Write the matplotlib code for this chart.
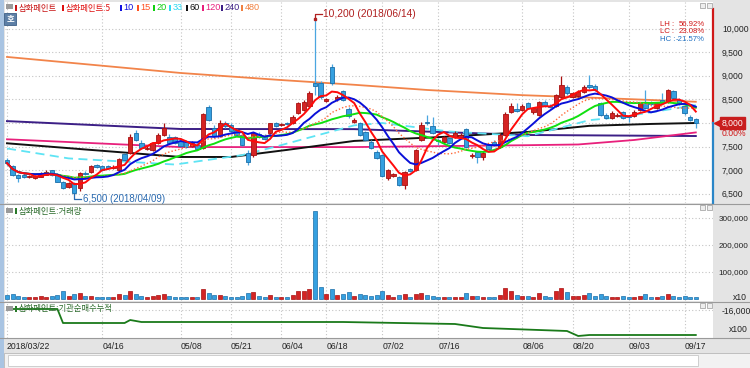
import numpy as np
import pandas as pd
import matplotlib
matplotlib.use('Agg')
import matplotlib.pyplot as plt
import matplotlib.transforms as mtransforms
import matplotlib.font_manager as fm
from matplotlib.patches import Rectangle
from matplotlib.lines import Line2D

KR = ['Noto Sans CJK KR', 'DejaVu Sans']
_names = {f.name for f in fm.fontManager.ttflist}
if 'Liberation Sans Narrow' in _names:
    NUM, FS = ['Liberation Sans Narrow', 'DejaVu Sans'], 7
else:
    NUM, FS = ['Liberation Sans', 'DejaVu Sans'], 6.2
plt.rcParams['font.family'] = NUM

# ---- data ----
holidays = ['2018-05-01', '2018-05-07', '2018-05-22', '2018-06-06', '2018-06-13', '2018-08-15']
dates = pd.bdate_range('2018-03-22', '2018-09-19', freq='C', holidays=holidays)

open_ = [7220, 7090, 6900, 6900, 6850, 6840, 6860, 6900, 7000, 6910,
         6760, 6650, 6720, 6620, 6950, 6970, 7110, 7090, 7090, 7050,
         7000, 7340, 7360, 7780, 7580, 7450, 7430, 7570, 7750, 7700,
         7700, 7620, 7600, 7520, 7540, 7470, 8340, 7890, 7720, 7990,
         7960, 7850, 7750, 7360, 7320, 7760, 7720, 7780, 7990, 7950,
         8000, 7990, 8210, 8280, 8350, 8840, 8840, 8470, 9180, 8500,
         8670, 8300, 8030, 7990, 7800, 7600, 7390, 7320, 6830, 6880,
         6860, 6690, 7020, 7000, 7640, 8030, 7940, 7650, 7590, 7680,
         7710, 7700, 7880, 7300, 7390, 7290, 7530, 7600, 7500, 7750,
         8240, 8300, 8280, 8420, 8240, 8170, 8450, 8370, 8350, 8560,
         8770, 8560, 8580, 8650, 8800, 8780, 8420, 8180, 8100, 8150,
         8240, 8150, 8150, 8280, 8430, 8430, 8310, 8490, 8450, 8670,
         8490, 8350, 8130, 8080]
high = [7260, 7120, 6920, 6930, 6900, 6900, 6960, 7000, 7010, 6930,
        6780, 6760, 6760, 6960, 6980, 7110, 7130, 7110, 7110, 7100,
        7250, 7360, 7760, 7850, 7640, 7520, 7600, 7780, 7990, 7760,
        7720, 7680, 7640, 7620, 7580, 8220, 8380, 7950, 8060, 8040,
        7990, 7880, 7770, 7420, 7800, 7800, 7760, 8010, 8020, 8000,
        8030, 8160, 8440, 8480, 8680, 10200, 8880, 8540, 9260, 8600,
        8700, 8340, 8100, 8020, 7830, 7630, 7420, 7340, 7020, 6940,
        6880, 6990, 7040, 7450, 8030, 8170, 8130, 7680, 7730, 7700,
        7820, 7790, 7900, 7360, 7410, 7400, 7560, 7630, 7780, 8230,
        8420, 8420, 8400, 8440, 8330, 8470, 8480, 8400, 8620, 9000,
        8800, 8660, 8700, 8800, 9020, 8820, 8450, 8210, 8250, 8210,
        8260, 8170, 8270, 8440, 8700, 8460, 8450, 8630, 8720, 8700,
        8520, 8380, 8160, 8100]
low = [7120, 6880, 6760, 6840, 6830, 6820, 6850, 6890, 6880, 6740,
       6600, 6630, 6500, 6560, 6900, 6950, 7050, 6990, 7020, 7030,
       6990, 7200, 7340, 7620, 7440, 7420, 7410, 7550, 7720, 7550,
       7560, 7500, 7480, 7500, 7420, 7450, 8040, 7690, 7700, 7890,
       7800, 7730, 7520, 7110, 7280, 7680, 7650, 7760, 7910, 7930,
       7950, 7970, 8190, 8260, 8330, 8600, 8500, 8440, 8800, 8470,
       8460, 8100, 8000, 7730, 7620, 7440, 7230, 6850, 6800, 6850,
       6670, 6610, 6970, 6980, 7620, 7960, 7760, 7540, 7570, 7550,
       7690, 7680, 7480, 7250, 7150, 7220, 7430, 7520, 7480, 7730,
       8220, 8240, 8250, 8290, 8200, 8150, 8330, 8320, 8330, 8540,
       8600, 8540, 8560, 8630, 8720, 8680, 8150, 8080, 8080, 8130,
       8080, 8020, 8130, 8260, 8290, 8370, 8290, 8400, 8430, 8500,
       8380, 8180, 8040, 7890]
close = [7150, 6900, 6830, 6860, 6870, 6880, 6940, 6970, 6900, 6760,
         6620, 6720, 6520, 6930, 6920, 7090, 7070, 7000, 7040, 7070,
         7230, 7220, 7710, 7640, 7470, 7480, 7570, 7750, 7890, 7570,
         7580, 7520, 7500, 7580, 7440, 8200, 8070, 7720, 8010, 7930,
         7820, 7750, 7540, 7180, 7780, 7700, 7670, 7990, 7930, 7980,
         7970, 8130, 8420, 8440, 8630, 8790, 8560, 8500, 8850, 8560,
         8490, 8150, 8060, 7750, 7640, 7470, 7250, 6870, 7000, 6910,
         6690, 6970, 6990, 7430, 7960, 7990, 7780, 7610, 7700, 7570,
         7780, 7750, 7500, 7330, 7290, 7370, 7450, 7540, 7750, 8200,
         8350, 8260, 8360, 8310, 8310, 8450, 8350, 8340, 8590, 8800,
         8630, 8630, 8660, 8770, 8760, 8700, 8170, 8100, 8220, 8180,
         8100, 8120, 8240, 8420, 8310, 8400, 8420, 8420, 8700, 8520,
         8420, 8210, 8060, 8000]
volume = [15000, 18000, 12000, 9000, 8000, 9000, 10000, 9000, 10000, 14000,
          28000, 12000, 20000, 22000, 10000, 12000, 9000, 8000, 7000, 8000,
          18000, 15000, 30000, 20000, 12000, 8000, 10000, 14000, 18000, 12000,
          9000, 8000, 8000, 7000, 9000, 38000, 24000, 14000, 16000, 10000,
          9000, 8000, 12000, 22000, 25000, 10000, 8000, 14000, 9000, 8000,
          7000, 14000, 30000, 28000, 36000, 325000, 45000, 20000, 38000, 15000,
          18000, 25000, 12000, 18000, 14000, 12000, 14000, 28000, 14000, 8000,
          14000, 20000, 8000, 18000, 24000, 14000, 12000, 9000, 8000, 8000,
          8000, 7000, 24000, 10000, 12000, 9000, 8000, 7000, 16000, 42000,
          30000, 16000, 12000, 10000, 9000, 24000, 12000, 8000, 28000, 40000,
          26000, 12000, 12000, 16000, 24000, 12000, 20000, 10000, 9000, 7000,
          10000, 8000, 8000, 12000, 20000, 8000, 9000, 10000, 18000, 10000,
          8000, 10000, 8000, 9000]

# longer moving averages read at a few days (index, price)
ma33_idx = [0, 11, 30, 42, 48, 62, 67, 79, 93, 104, 110, 123]
ma33_val = [7460, 7250, 7120, 7320, 7500, 7950, 8000, 7820, 7720, 8060, 8130, 8380]
ma60_idx = [0, 31, 40, 50, 62, 77, 93, 104, 115, 123]
ma60_val = [7570, 7280, 7280, 7430, 7620, 7700, 7810, 7940, 7980, 8000]
ma120_idx = [0, 31, 62, 93, 102, 112, 123]
ma120_val = [7655, 7490, 7490, 7530, 7545, 7640, 7800]
ma240_idx = [0, 31, 62, 93, 123]
ma240_val = [8040, 7873, 7870, 7746, 7724]
ma480_idx = [0, 31, 49, 62, 75, 92, 106, 123]
ma480_val = [9400, 9060, 8910, 8810, 8700, 8590, 8530, 8450]

# institution cumulative net buying (index, value)
inst_idx = [0, 9, 10, 21, 22, 24, 60, 80, 85, 95, 100, 102, 104, 123]
inst_val = [-15900, -15900, -17300, -17300, -17000, -17200, -17200, -17400, -17800, -18000, -18100, -18600,
            -18500, -18500]

tick_dates = ['2018-03-22', '2018-04-16', '2018-05-08', '2018-05-21', '2018-06-04', '2018-06-18',
              '2018-07-02', '2018-07-16', '2018-08-06', '2018-08-20', '2018-09-03', '2018-09-17']
tick_labels = ['2018/03/22', '04/16', '05/08', '05/21', '06/04', '06/18',
               '07/02', '07/16', '08/06', '08/20', '09/03', '09/17']

# ---- figure ----
W, H = 750, 368
fig = plt.figure(figsize=(W / 100, H / 100), dpi=100, facecolor='#e4e4e4')


def box(x0, y0, x1, y1):
    return [x0 / W, 1 - y1 / H, (x1 - x0) / W, (y1 - y0) / H]


def px(x, y):
    return x / W, 1 - y / H


ax_p = fig.add_axes(box(5, 2, 713, 203))
ax_v = fig.add_axes(box(5, 205, 713, 301), sharex=ax_p)
ax_i = fig.add_axes(box(5, 303, 713, 338), sharex=ax_p)

n = len(close)
x = np.arange(n)
o = np.array(open_); c = np.array(close); h = np.array(high); l = np.array(low)
up = c >= o
RED, RED_E = '#d42424', '#a81010'
BLU, BLU_E = '#35a0e0', '#1b6ea8'

tick_pos = [dates.get_loc(pd.Timestamp(d)) for d in tick_dates]
grid_kw = dict(color='#c4c4c4', lw=0.8, ls=(0, (1, 2)))

for ax in (ax_p, ax_v, ax_i):
    ax.set_facecolor('white')
    for s in ax.spines.values():
        s.set_visible(False)
    ax.set_xlim((5 - 7) / 5.6, (713 - 7) / 5.6)
    for t in tick_pos:
        ax.axvline(t, zorder=0, **grid_kw)
    ax.yaxis.tick_right()
    ax.tick_params(axis='y', length=0, pad=6.5, labelsize=FS, labelcolor='#222222')
    ax.tick_params(axis='x', length=0)
ax_v.tick_params(axis='y', pad=4.2, labelsize=FS - 0.3)

# price panel
ax_p.set_ylim(8000 - 80 * 21.19, 8000 + 121 * 21.19)
pt = list(range(6500, 10001, 500))
ax_p.set_yticks(pt)
ax_p.set_yticklabels([f'{v:,}' for v in pt])
for v in pt:
    ax_p.axhline(v, zorder=0, **grid_kw)

for i in range(n):
    fc, ec = (RED, RED_E) if up[i] else (BLU, BLU_E)
    ax_p.vlines(i, l[i], h[i], color=ec if up[i] else '#4aa6e0', lw=0.9, zorder=3)
    bot = min(o[i], c[i]); ht = max(abs(c[i] - o[i]), 12)
    ax_p.add_patch(Rectangle((i - 0.38, bot), 0.76, ht, facecolor=fc, edgecolor=ec, lw=0.6, zorder=4))

cs = pd.Series(close)
ax_p.plot(ma480_idx, ma480_val, color='#f2844a', lw=1.3, zorder=2)
ax_p.plot(ma240_idx, ma240_val, color='#3c1f86', lw=1.4, zorder=2)
ax_p.plot(ma120_idx, ma120_val, color='#e8207c', lw=1.3, zorder=2)
ax_p.plot(ma60_idx, ma60_val, color='#111111', lw=1.4, zorder=2)
ax_p.plot(ma33_idx, ma33_val, color='#5ee4f4', lw=1.3, ls=(0, (5, 3)), zorder=2)
ax_p.plot(x, cs.rolling(20, min_periods=1).mean(), color='#10e010', lw=1.4, zorder=5)
ax_p.plot(x, cs.rolling(15, min_periods=1).mean(), color='#ff6a3a', lw=1.0, ls=(0, (1, 1.5)), zorder=5)
ax_p.plot(x, cs.rolling(10, min_periods=1).mean(), color='#0a10d8', lw=1.4, zorder=6)
ax_p.plot(x, cs.rolling(5, min_periods=1).mean(), color='#ff0a0a', lw=1.4, zorder=7)

# high / low markers
hi_i = int(np.argmax(h)); lo_i = int(np.argmin(l))
ax_p.plot([hi_i, hi_i, hi_i + 1.3], [h[hi_i], h[hi_i] + 120, h[hi_i] + 120], color='#b02020', lw=0.9, zorder=8)
ax_p.plot(hi_i, h[hi_i], 's', ms=2, color='#b02020', zorder=8)
ax_p.text(hi_i + 1.5, h[hi_i] + 120, f'{h[hi_i]:,} ({dates[hi_i]:%Y/%m/%d})', color='#b02020',
          fontsize=FS + 1.2, va='center', ha='left', zorder=8)
ax_p.plot([lo_i, lo_i, lo_i + 1.3], [l[lo_i], l[lo_i] - 120, l[lo_i] - 120], color='#2a6ab0', lw=0.9, zorder=8)
ax_p.text(lo_i + 1.5, l[lo_i] - 120, f'{l[lo_i]:,} ({dates[lo_i]:%Y/%m/%d})', color='#2a6ab0',
          fontsize=FS + 0.8, va='center', ha='left', zorder=8)

# current price marker on the right edge
trp = mtransforms.blended_transform_factory(ax_p.transAxes, ax_p.transData)
last = c[-1]
ax_p.add_line(Line2D([1, 1], [last, 10420], transform=trp, color='#d01818', lw=1.6, clip_on=False, zorder=9))
ax_p.add_line(Line2D([1, 1], [6304, last], transform=trp, color='#2a86c8', lw=1.6, clip_on=False, zorder=9))
ax_p.plot([1.006], [last], marker='<', ms=5, color='#d01818', transform=trp, clip_on=False, zorder=9)
ax_p.text(1.0125, last, f'{last:,.0f}', transform=trp, color='white', fontsize=FS, va='center', ha='left',
          bbox=dict(boxstyle='square,pad=0.2', fc='#c81e1e', ec='#c81e1e'), zorder=10, clip_on=False)
ax_p.text(1.0125, last - 230, '0.00%', transform=trp, color='#d01818', fontsize=FS, va='center', ha='left',
          clip_on=False, zorder=10)

# LH / LC / HC
for k, (lab, val, col) in enumerate([('LH :', '56.92%', '#d01818'), ('LC :', '23.08%', '#d01818'),
                                     ('HC :', '-21.57%', '#1f6fc0')]):
    yy = 24.5 + 7.3 * k
    fig.text(*px(660, yy), lab, color=col, fontsize=FS - 0.6, va='center', ha='left')
    fig.text(*px(705, yy), val, color=col, fontsize=FS - 0.6, va='center', ha='right')

# volume panel
ax_v.set_ylim(-(301 - 299) / 27 * 100000, (299 - 205) / 27 * 100000)
vt = [100000, 200000, 300000]
ax_v.set_yticks(vt)
ax_v.set_yticklabels([f'{v:,}' for v in vt])
for v in vt:
    ax_v.axhline(v, zorder=0, **grid_kw)
ax_v.bar(x, volume, width=0.72, color=np.where(up, RED, BLU), edgecolor=np.where(up, RED_E, BLU_E),
         lw=0.5, zorder=3)
fig.text(*px(733, 297), 'x10', fontsize=FS, va='center', ha='left', color='#222222')

# institution panel
ax_i.set_ylim(-16000 - (338 - 310) * 100, -16000 + (310 - 303) * 100)
ax_i.set_yticks([-16000])
ax_i.set_yticklabels(['-16,000'])
ax_i.axhline(-16000, zorder=0, **grid_kw)
ax_i.plot(inst_idx, inst_val, color='#1a7a1a', lw=1.3, zorder=3)
fig.text(*px(729, 330), 'x100', fontsize=FS, va='center', ha='left', color='#222222')

plt.setp(ax_p.get_xticklabels(), visible=False)
plt.setp(ax_v.get_xticklabels(), visible=False)
ax_i.set_xticks(tick_pos)
ax_i.set_xticklabels(tick_labels, fontsize=FS, ha='left', color='#222222')
ax_i.tick_params(axis='x', pad=3)

# frame bits: left window border, separators, date strip, scrollbar
fig.patches.append(Rectangle(px(0, 368), 4 / W, 1, transform=fig.transFigure, fc='#a9c4e2', ec='none'))
for yy in (204, 302, 338):
    fig.add_artist(Line2D([0, 1], [1 - yy / H] * 2, color='#9a9a9a', lw=0.8))
fig.patches.append(Rectangle(px(4, 368), 746 / W, 15 / H, transform=fig.transFigure, fc='#f2f2f2',
                             ec='#b8b8b8', lw=0.6))
fig.patches.append(Rectangle(px(8, 366), 690 / W, 11 / H, transform=fig.transFigure, fc='white',
                             ec='#c8c8c8', lw=0.6))

# panel titles
fig.patches.append(Rectangle(px(6, 9), 7 / W, 5 / H, transform=fig.transFigure, fc='#9a9a9a', ec='none'))
fig.patches.append(Rectangle(px(4, 25), 12 / W, 12 / H, transform=fig.transFigure, fc='#5d7fa6',
                             ec='#3d5f86', lw=0.6))
fig.text(*px(10, 19), '호', family=KR, fontsize=6, color='white', ha='center', va='center', weight='bold')
legend_items = [(15, '삼화페인트', '#c81414'), (62, '삼화페인트:5', '#e01010'), (120, '10', '#1010e0'),
                (137, '15', '#ff5020'), (153, '20', '#10d010'), (169, '33', '#30d8f0'),
                (186, '60', '#111111'), (202, '120', '#e8207c'), (221, '240', '#3c1f86'),
                (241, '480', '#f08040')]
for lx, txt, col in legend_items:
    fig.patches.append(Rectangle(px(lx, 11), 2 / W, 6 / H, transform=fig.transFigure, fc=col, ec='none'))
    fam = KR if not txt.isdigit() else NUM
    fig.text(*px(lx + 3.5, 8), txt, family=fam, fontsize=6 if fam is KR else FS + 0.4, color=col,
             va='center', ha='left')

for ty, txt in ((211, '삼화페인트:거래량'), (309, '삼화페인트:기관순매수누적')):
    fig.patches.append(Rectangle(px(6, ty + 2), 7 / W, 5 / H, transform=fig.transFigure, fc='#9a9a9a', ec='none'))
    fig.patches.append(Rectangle(px(15, ty + 3), 2 / W, 6 / H, transform=fig.transFigure, fc='#2a7a2a', ec='none'))
    fig.text(*px(18.5, ty), txt, family=KR, fontsize=6, color='#2a6a2a', va='center', ha='left')

for ty in (5, 207, 305):
    for bx in (700, 707):
        fig.patches.append(Rectangle(px(bx, ty + 3), 5 / W, 5 / H, transform=fig.transFigure,
                                     fc='#eeeeee', ec='#9a9a9a', lw=0.5))

fig.savefig('out.png', dpi=100, facecolor=fig.get_facecolor())
